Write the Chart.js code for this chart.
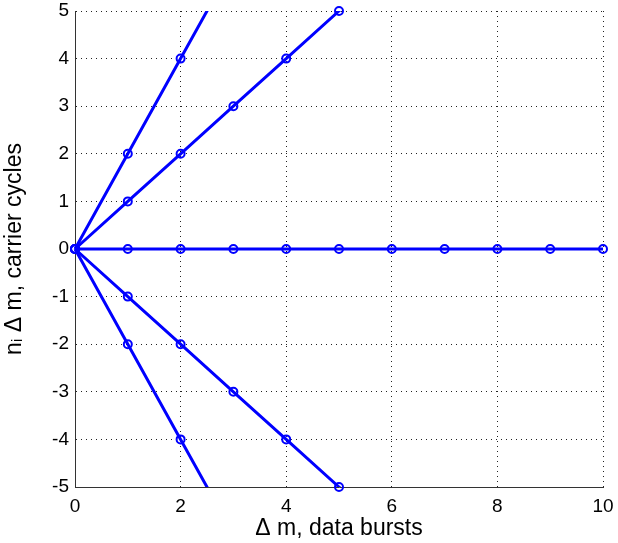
<!DOCTYPE html>
<html>
<head>
<meta charset="utf-8">
<script src="https://cdn.jsdelivr.net/npm/chart.js@4"></script>
<style>
  html, body { margin: 0; padding: 0; background: #fff; }
  #wrap { width: 618px; height: 543px; }
</style>
</head>
<body>
<div id="wrap"><canvas id="c" width="618" height="543"></canvas></div>
<script>
// Δm values (data bursts)
const deltaM = [0, 1, 2, 3, 4, 5, 6, 7, 8, 9, 10];
// n_i Δm values per line (carrier cycles); points beyond the axis are clipped
const seriesN2  = [0, 2, 4, 6];
const seriesN1  = [0, 1, 2, 3, 4, 5, 6];
const seriesN0  = [0, 0, 0, 0, 0, 0, 0, 0, 0, 0, 0];
const seriesNm1 = [0, -1, -2, -3, -4, -5, -6];
const seriesNm2 = [0, -2, -4, -6];
const xTickValues = [0, 2, 4, 6, 8, 10];
const yTickValues = [-5, -4, -3, -2, -1, 0, 1, 2, 3, 4, 5];
const xLimits = [0, 10];
const yLimits = [-5, 5];

const allSeries = [seriesN2, seriesN1, seriesN0, seriesNm1, seriesNm2];
const BLUE = '#0000ff';
const FONT = "'Liberation Sans', Arial, sans-serif";

const datasets = [];
allSeries.forEach(ys => {
  const pts = ys.map((y, i) => ({ x: deltaM[i], y: y }));
  datasets.push({
    type: 'line',
    data: pts,
    borderColor: BLUE,
    borderWidth: 3,
    pointRadius: 0,
    fill: false,
    tension: 0,
    clip: { left: 8, right: 8, top: 0, bottom: 0 }
  });
  datasets.push({
    type: 'scatter',
    data: pts.filter(p => p.y >= yLimits[0] && p.y <= yLimits[1] && p.x >= xLimits[0] && p.x <= xLimits[1]),
    showLine: false,
    borderColor: BLUE,
    backgroundColor: 'rgba(0,0,0,0)',
    borderWidth: 2,
    pointRadius: 4,
    clip: false
  });
});

new Chart(document.getElementById('c'), {
  type: 'scatter',
  data: { datasets },
  options: {
    responsive: false,
    animation: false,
    events: [],
    layout: { padding: { left: 0, right: 15, top: 11, bottom: 0 } },
    plugins: { legend: { display: false }, tooltip: { enabled: false } },
    scales: {
      x: {
        type: 'linear',
        min: xLimits[0], max: xLimits[1],
        afterBuildTicks: s => { s.ticks = xTickValues.map(v => ({ value: v })); },
        afterFit: s => { s.height = 56; s.paddingLeft = 0; s.paddingRight = 0; },
        ticks: { color: '#000', font: { family: FONT, size: 19 }, padding: 8, maxRotation: 0, autoSkip: false },
        grid: { color: '#222', lineWidth: 1, drawTicks: false },
        border: { display: true, color: '#333', width: 1, dash: [1, 4] },
        title: { display: true, text: 'Δ m, data bursts', color: '#000', font: { family: FONT, size: 23 }, padding: { top: 0, bottom: 1 } }
      },
      y: {
        type: 'linear',
        min: yLimits[0], max: yLimits[1],
        afterBuildTicks: s => { s.ticks = yTickValues.map(v => ({ value: v })); },
        afterFit: s => { s.width = 75; s.paddingTop = 0; s.paddingBottom = 0; },
        ticks: { color: '#000', font: { family: FONT, size: 19 }, padding: 6, autoSkip: false },
        grid: { color: '#222', lineWidth: 1, drawTicks: false },
        border: { display: true, color: '#333', width: 1, dash: [1, 4] },
        title: { display: true, text: 'nᵢ Δ m, carrier cycles', color: '#000', font: { family: FONT, size: 23 }, padding: { top: 1, bottom: 0 } }
      }
    }
  }
});
</script>
</body>
</html>
